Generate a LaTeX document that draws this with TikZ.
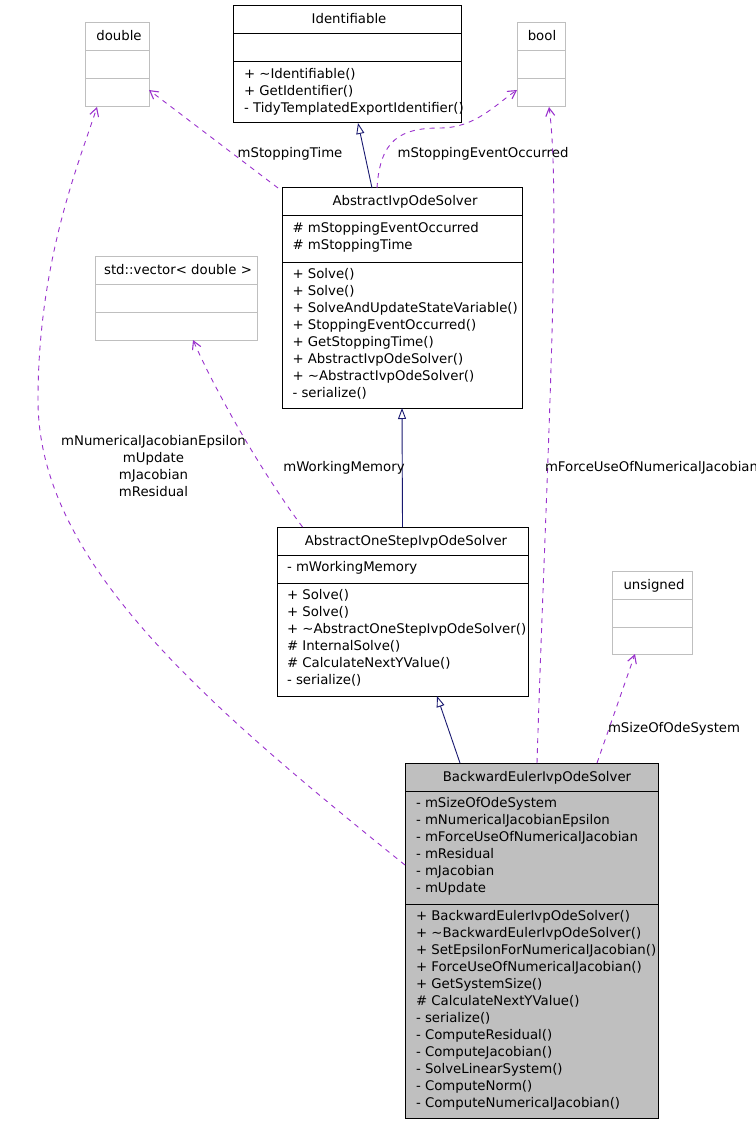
\documentclass[tikz,border=0pt]{standalone}
\usepackage{fontspec}
\setmainfont{DejaVu Sans}
\usetikzlibrary{arrows.meta}
\definecolor{depc}{HTML}{9A32CD}
\definecolor{inhc}{HTML}{191970}
\definecolor{gbox}{HTML}{BFBFBF}
\tikzset{
  txt/.style={font=\fontsize{13.3}{17}\selectfont, inner sep=0pt, outer sep=0pt},
  clsbox/.style={draw=black, line width=1pt, fill=white, inner sep=0pt, outer sep=0pt},
  typebox/.style={draw=gbox, line width=1pt, fill=white, inner sep=0pt, outer sep=0pt},
  mainbox/.style={draw=black, line width=1pt, fill=gbox, inner sep=0pt, outer sep=0pt},
  dep/.style={draw=depc, line width=0.9pt, dash pattern=on 5pt off 5pt,
    -{Straight Barb[length=8pt,width=9pt,line width=1.1pt]}},
  inh/.style={draw=inhc, line width=0.9pt,
    -{Triangle[open,length=11pt,width=8pt,fill=white]}},
}
\begin{document}
\begin{tikzpicture}[x=1pt,y=-1pt]
\useasboundingbox (0,0) rectangle (755,1123);

% ---------- type boxes (gray) ----------
\node[typebox, minimum width=64pt, minimum height=84pt] (double) at (117,65) {};
\draw[gbox, line width=1pt] ([yshift=-28pt]double.north west) -- ([yshift=-28pt]double.north east);
\draw[gbox, line width=1pt] ([yshift=-56pt]double.north west) -- ([yshift=-56pt]double.north east);
\node[txt, anchor=base] (double-t) at (119,41) {double};

\node[typebox, minimum width=48pt, minimum height=84pt] (bool) at (541,65) {};
\draw[gbox, line width=1pt] ([yshift=-28pt]bool.north west) -- ([yshift=-28pt]bool.north east);
\draw[gbox, line width=1pt] ([yshift=-56pt]bool.north west) -- ([yshift=-56pt]bool.north east);
\node[txt, anchor=base] (bool-t) at (542,41) {bool};

\node[typebox, minimum width=162pt, minimum height=84pt] (vec) at (176,298) {};
\draw[gbox, line width=1pt] ([yshift=-28pt]vec.north west) -- ([yshift=-28pt]vec.north east);
\draw[gbox, line width=1pt] ([yshift=-56pt]vec.north west) -- ([yshift=-56pt]vec.north east);
\node[txt, anchor=base] (vec-t) at (178,274) {std::vector< double >};

\node[typebox, minimum width=80pt, minimum height=83pt] (uns) at (652,612.5) {};
\draw[gbox, line width=1pt] ([yshift=-28pt]uns.north west) -- ([yshift=-28pt]uns.north east);
\draw[gbox, line width=1pt] ([yshift=-56pt]uns.north west) -- ([yshift=-56pt]uns.north east);
\node[txt, anchor=base] (uns-t) at (654,589) {unsigned};

% ---------- Identifiable ----------
\node[clsbox, minimum width=228pt, minimum height=117pt] (ident) at (347,64.5) {};
\draw[line width=1pt] ([yshift=-28pt]ident.north west) -- ([yshift=-28pt]ident.north east);
\draw[line width=1pt] ([yshift=-56pt]ident.north west) -- ([yshift=-56pt]ident.north east);
\node[txt, anchor=base] (ident-t) at (349,24) {Identifiable};
\foreach \t [count=\i] in {+ \textasciitilde Identifiable(), + GetIdentifier(), - TidyTemplatedExportIdentifier()}
  \node[txt, anchor=base west] (ident-m\i) at (244,{62+16.5+17*(\i-1)}) {\t};

% ---------- AbstractIvpOdeSolver ----------
\node[clsbox, minimum width=240pt, minimum height=220pt] (aivp) at (402,298) {};
\draw[line width=1pt] ([yshift=-28pt]aivp.north west) -- ([yshift=-28pt]aivp.north east);
\draw[line width=1pt] ([yshift=-74pt]aivp.north west) -- ([yshift=-74pt]aivp.north east);
\node[txt, anchor=base] (aivp-t) at (405,206) {AbstractIvpOdeSolver};
\foreach \t [count=\i] in {\# mStoppingEventOccurred, \# mStoppingTime}
  \node[txt, anchor=base west] (aivp-a\i) at (292.5,{216+16.5+17*(\i-1)}) {\t};
\foreach \t [count=\i] in {+ Solve(), + Solve(), + SolveAndUpdateStateVariable(), + StoppingEventOccurred(), + GetStoppingTime(), + AbstractIvpOdeSolver(), + \textasciitilde AbstractIvpOdeSolver(), - serialize()}
  \node[txt, anchor=base west] (aivp-m\i) at (292.5,{262+16.5+17*(\i-1)}) {\t};

% ---------- AbstractOneStepIvpOdeSolver ----------
\node[clsbox, minimum width=251pt, minimum height=169pt] (aone) at (402.5,611.5) {};
\draw[line width=1pt] ([yshift=-28pt]aone.north west) -- ([yshift=-28pt]aone.north east);
\draw[line width=1pt] ([yshift=-56pt]aone.north west) -- ([yshift=-56pt]aone.north east);
\node[txt, anchor=base] (aone-t) at (406,545) {AbstractOneStepIvpOdeSolver};
\node[txt, anchor=base west] (aone-a1) at (287,571.5) {- mWorkingMemory};
\foreach \t [count=\i] in {+ Solve(), + Solve(), + \textasciitilde AbstractOneStepIvpOdeSolver(), \# InternalSolve(), \# CalculateNextYValue(), - serialize()}
  \node[txt, anchor=base west] (aone-m\i) at (287,{583+16.5+17*(\i-1)}) {\t};

% ---------- BackwardEulerIvpOdeSolver ----------
\node[mainbox, minimum width=253pt, minimum height=355pt] (be) at (531.5,940.5) {};
\draw[line width=1pt] ([yshift=-28pt]be.north west) -- ([yshift=-28pt]be.north east);
\draw[line width=1pt] ([yshift=-141pt]be.north west) -- ([yshift=-141pt]be.north east);
\node[txt, anchor=base] (be-t) at (537,781) {BackwardEulerIvpOdeSolver};
\foreach \t [count=\i] in {- mSizeOfOdeSystem, - mNumericalJacobianEpsilon, - mForceUseOfNumericalJacobian, - mResidual, - mJacobian, - mUpdate}
  \node[txt, anchor=base west] (be-a\i) at (416,{791+16.5+17*(\i-1)}) {\t};
\foreach \t [count=\i] in {+ BackwardEulerIvpOdeSolver(), + \textasciitilde BackwardEulerIvpOdeSolver(), + SetEpsilonForNumericalJacobian(), + ForceUseOfNumericalJacobian(), + GetSystemSize(), \# CalculateNextYValue(), - serialize(), - ComputeResidual(), - ComputeJacobian(), - SolveLinearSystem(), - ComputeNorm(), - ComputeNumericalJacobian()}
  \node[txt, anchor=base west] (be-m\i) at (416,{904+16.5+17*(\i-1)}) {\t};

% ---------- inheritance ----------
\draw[inh] ([xshift=-30pt]aivp.north) -- ([xshift=11pt]ident.south);
\draw[inh] (aone.north) -- (aivp.south);
\draw[inh] ([xshift=-71.5pt]be.north) -- ([xshift=34.5pt]aone.south);

% ---------- usage (dependencies) ----------
\draw[dep] ([xshift=-4pt]aivp.north west) -- ([yshift=-25pt]double.east);
\node[txt, anchor=base] (lbl-st) at (290,158) {mStoppingTime};

\draw[dep] ([xshift=-25pt]aivp.north) .. controls (380,140) and (400,128) .. (440,128)
   .. controls (475,128) and (495,105) .. ([yshift=-25pt]bool.west);
\node[txt, anchor=base] (lbl-seo) at (483,158) {mStoppingEventOccurred};

\draw[dep] ([xshift=5.5pt]be.north) .. controls (545,500) and (562,200) .. ([xshift=8pt]bool.south);
\node[txt, anchor=base west] (lbl-fu) at (545,471) {mForceUseOfNumericalJacobian};

\draw[dep] ([xshift=-100pt]aone.north) .. controls (260,470) and (215,390) .. ([xshift=17pt]vec.south);
\node[txt, anchor=base] (lbl-wm) at (344,471) {mWorkingMemory};

\draw[dep] ([xshift=65.5pt]be.north) -- ([xshift=-17pt]uns.south);
\node[txt, anchor=base west] (lbl-sz) at (608,732) {mSizeOfOdeSystem};

\draw[dep] ([yshift=-102pt]be.north west) .. controls (200,700) and (38,560) .. (38,400)
   .. controls (38,260) and (80,160) .. ([xshift=-20pt]double.south);
\node[txt, anchor=base] (lbl-nj1) at (153.5,445) {mNumericalJacobianEpsilon};
\node[txt, anchor=base] (lbl-nj2) at (153.5,462) {mUpdate};
\node[txt, anchor=base] (lbl-nj3) at (153.5,479) {mJacobian};
\node[txt, anchor=base] (lbl-nj4) at (153.5,496) {mResidual};
\end{tikzpicture}
\end{document}
